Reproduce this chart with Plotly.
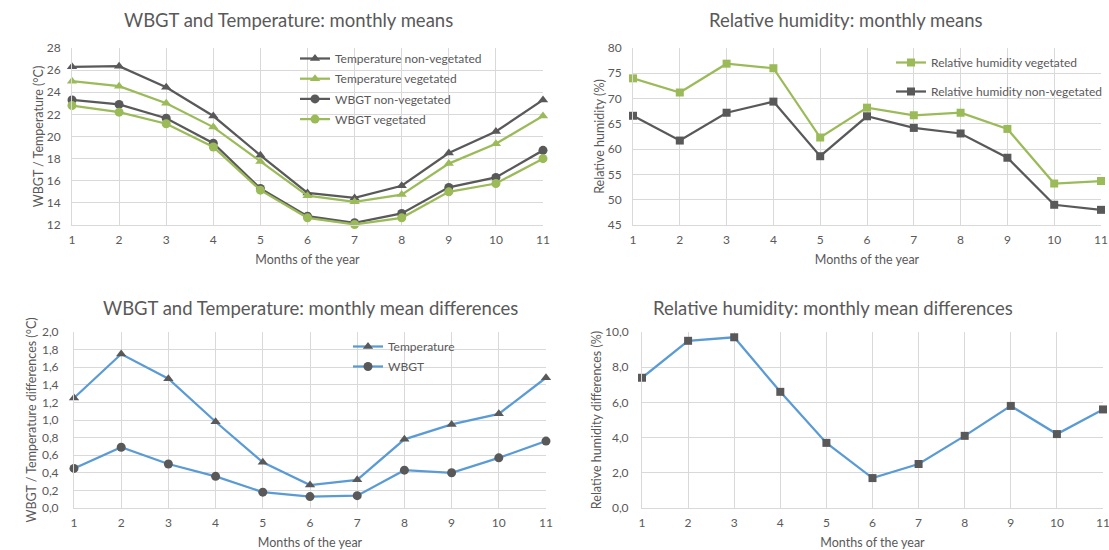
import plotly.graph_objects as go

# ---- data -------------------------------------------------------------
months = [1, 2, 3, 4, 5, 6, 7, 8, 9, 10, 11]

temp_nonveg = [26.3, 26.35, 24.45, 21.85, 18.3, 14.9, 14.45, 15.55, 18.5, 20.45, 23.3]
temp_veg = [25.0, 24.55, 23.0, 20.85, 17.75, 14.65, 14.1, 14.75, 17.55, 19.35, 21.85]
wbgt_nonveg = [23.3, 22.9, 21.65, 19.4, 15.3, 12.8, 12.2, 13.05, 15.4, 16.3, 18.75]
wbgt_veg = [22.8, 22.2, 21.15, 19.05, 15.15, 12.65, 12.05, 12.65, 15.0, 15.75, 18.0]

rh_veg = [74.0, 71.2, 76.9, 76.0, 62.3, 68.2, 66.7, 67.2, 64.0, 53.2, 53.7]
rh_nonveg = [66.6, 61.7, 67.2, 69.4, 58.6, 66.5, 64.2, 63.1, 58.3, 49.0, 48.0]

temp_diff = [1.25, 1.75, 1.47, 0.98, 0.52, 0.26, 0.32, 0.78, 0.95, 1.07, 1.48]
wbgt_diff = [0.45, 0.69, 0.50, 0.36, 0.18, 0.13, 0.14, 0.43, 0.40, 0.57, 0.76]
rh_diff = [7.4, 9.5, 9.7, 6.6, 3.7, 1.7, 2.5, 4.1, 5.8, 4.2, 5.6]

diff_ticks = [0.0, 0.2, 0.4, 0.6, 0.8, 1.0, 1.2, 1.4, 1.6, 1.8, 2.0]
diff_tick_labels = ["0,0", "0,2", "0,4", "0,6", "0,8", "1,0", "1,2", "1,4", "1,6", "1,8", "2,0"]
rh_diff_ticks = [0, 2, 4, 6, 8, 10]
rh_diff_tick_labels = ["0,0", "2,0", "4,0", "6,0", "8,0", "10,0"]

# ---- styling ----------------------------------------------------------
W, H = 1109, 550
FONT = "Lato"
TXT = "#595959"
GRID = "#D9D9D9"
DARK = "#595959"
GREEN = "#9BBB59"
BLUE = "#5B9BD5"


def px_x(p):
    return p / W


def px_y(p):
    return 1 - p / H


fig = go.Figure()


def add_line(x, y, name, color, symbol, size, xa, ya, legend, mcolor=None, show=True):
    fig.add_trace(go.Scatter(
        x=x, y=y, name=name, mode="lines+markers",
        line=dict(color=color, width=2.25),
        marker=dict(symbol=symbol, size=size, color=mcolor or color),
        xaxis=xa, yaxis=ya, legend=legend, showlegend=show,
        legendgroup=name, cliponaxis=False,
    ))


# panel 1: WBGT and temperature means
add_line(months, temp_nonveg, "Temperature non-vegetated", DARK, "triangle-up", 9, "x", "y", "legend")
add_line(months, temp_veg, "Temperature vegetated", GREEN, "triangle-up", 9, "x", "y", "legend")
add_line(months, wbgt_nonveg, "WBGT non-vegetated", DARK, "circle", 9, "x", "y", "legend")
add_line(months, wbgt_veg, "WBGT vegetated", GREEN, "circle", 9, "x", "y", "legend")

# panel 2: relative humidity means
add_line(months, rh_veg, "Relative humidity vegetated", GREEN, "square", 8, "x2", "y2", "legend2")
add_line(months, rh_nonveg, "Relative humidity non-vegetated", DARK, "square", 8, "x2", "y2", "legend2")

# panel 3: WBGT and temperature differences
add_line(months, temp_diff, "Temperature", BLUE, "triangle-up", 9, "x3", "y3", "legend3", mcolor=DARK)
add_line(months, wbgt_diff, "WBGT", BLUE, "circle", 9, "x3", "y3", "legend3", mcolor=DARK)

# panel 4: relative humidity differences
add_line(months, rh_diff, "Relative humidity", BLUE, "square", 8, "x4", "y4", "legend", mcolor=DARK, show=False)


def xaxis(domain, anchor, standoff=8):
    return dict(
        domain=domain, anchor=anchor, range=[1, 11], tickvals=months,
        showgrid=True, gridcolor=GRID, gridwidth=1, automargin=False,
        showline=True, linecolor=GRID, linewidth=1, zeroline=False,
        ticks="", ticklabelstandoff=4, ticklabeloverflow="allow",
        tickfont=dict(size=12, color=TXT, family=FONT),
        title=dict(text="Months of the year", font=dict(size=12.5, color=TXT, family=FONT),
                   standoff=standoff),
    )


def yaxis(domain, anchor, rng, dtick=None, tickvals=None, ticktext=None, title="",
          standoff=8, tstand=8):
    d = dict(
        domain=domain, anchor=anchor, range=rng, automargin=False,
        showgrid=True, gridcolor=GRID, gridwidth=1,
        showline=True, linecolor=GRID, linewidth=1, zeroline=False,
        ticks="", ticklabelstandoff=tstand, ticklabeloverflow="allow",
        tickfont=dict(size=12, color=TXT, family=FONT),
        title=dict(text=title, font=dict(size=12.5, color=TXT, family=FONT), standoff=standoff),
    )
    if dtick is not None:
        d["dtick"] = dtick
        d["tick0"] = rng[0]
    if tickvals is not None:
        d["tickvals"] = tickvals
        d["ticktext"] = ticktext
    return d


top = [px_y(225), px_y(48)]
bot = [px_y(508), px_y(332)]

legend_font = dict(size=12, color=TXT, family=FONT)

fig.update_layout(
    width=W, height=H,
    margin=dict(l=0, r=0, t=0, b=0),
    paper_bgcolor="white", plot_bgcolor="white",
    font=dict(family=FONT, color=TXT),
    xaxis=xaxis([px_x(72), px_x(543)], "y"),
    yaxis=yaxis(top, "x", [12, 28], dtick=2, title="WBGT / Temperature (°C)", standoff=0),
    xaxis2=xaxis([px_x(633), px_x(1101)], "y2"),
    yaxis2=yaxis(top, "x2", [45, 80], dtick=5, title="Relative humidity (%)", standoff=0),
    xaxis3=xaxis([px_x(74), px_x(546)], "y3"),
    yaxis3=yaxis(bot, "x3", [0, 2], tickvals=diff_ticks, ticktext=diff_tick_labels,
                 title="WBGT / Temperature differences (°C)", standoff=2, tstand=12),
    xaxis4=xaxis([px_x(642), px_x(1103)], "y4"),
    yaxis4=yaxis(bot, "x4", [0, 10], tickvals=rh_diff_ticks, ticktext=rh_diff_tick_labels,
                 title="Relative humidity differences (%)", standoff=0, tstand=10),
    legend=dict(x=px_x(295), y=px_y(44), xanchor="left", yanchor="top",
                bgcolor="rgba(0,0,0,0)", font=legend_font,
                itemwidth=30, tracegroupgap=1.2, traceorder="grouped"),
    legend2=dict(x=px_x(891), y=px_y(48), xanchor="left", yanchor="top",
                 bgcolor="rgba(0,0,0,0)", font=legend_font,
                 itemwidth=30, tracegroupgap=10, traceorder="grouped"),
    legend3=dict(x=px_x(348), y=px_y(332), xanchor="left", yanchor="top",
                 bgcolor="rgba(0,0,0,0)", font=legend_font,
                 itemwidth=30, tracegroupgap=1, traceorder="grouped"),
)

titles = [
    ("WBGT and Temperature: monthly means", 288, 20),
    ("Relative humidity: monthly means", 846, 20),
    ("WBGT and Temperature: monthly mean differences", 310, 308),
    ("Relative humidity: monthly mean differences", 833, 308),
]
for text, cx, cy in titles:
    fig.add_annotation(text=text, x=px_x(cx), y=px_y(cy), xref="paper", yref="paper",
                       xanchor="center", yanchor="middle", showarrow=False,
                       font=dict(size=18.5, color=TXT, family=FONT))

fig.write_html("out.html")
